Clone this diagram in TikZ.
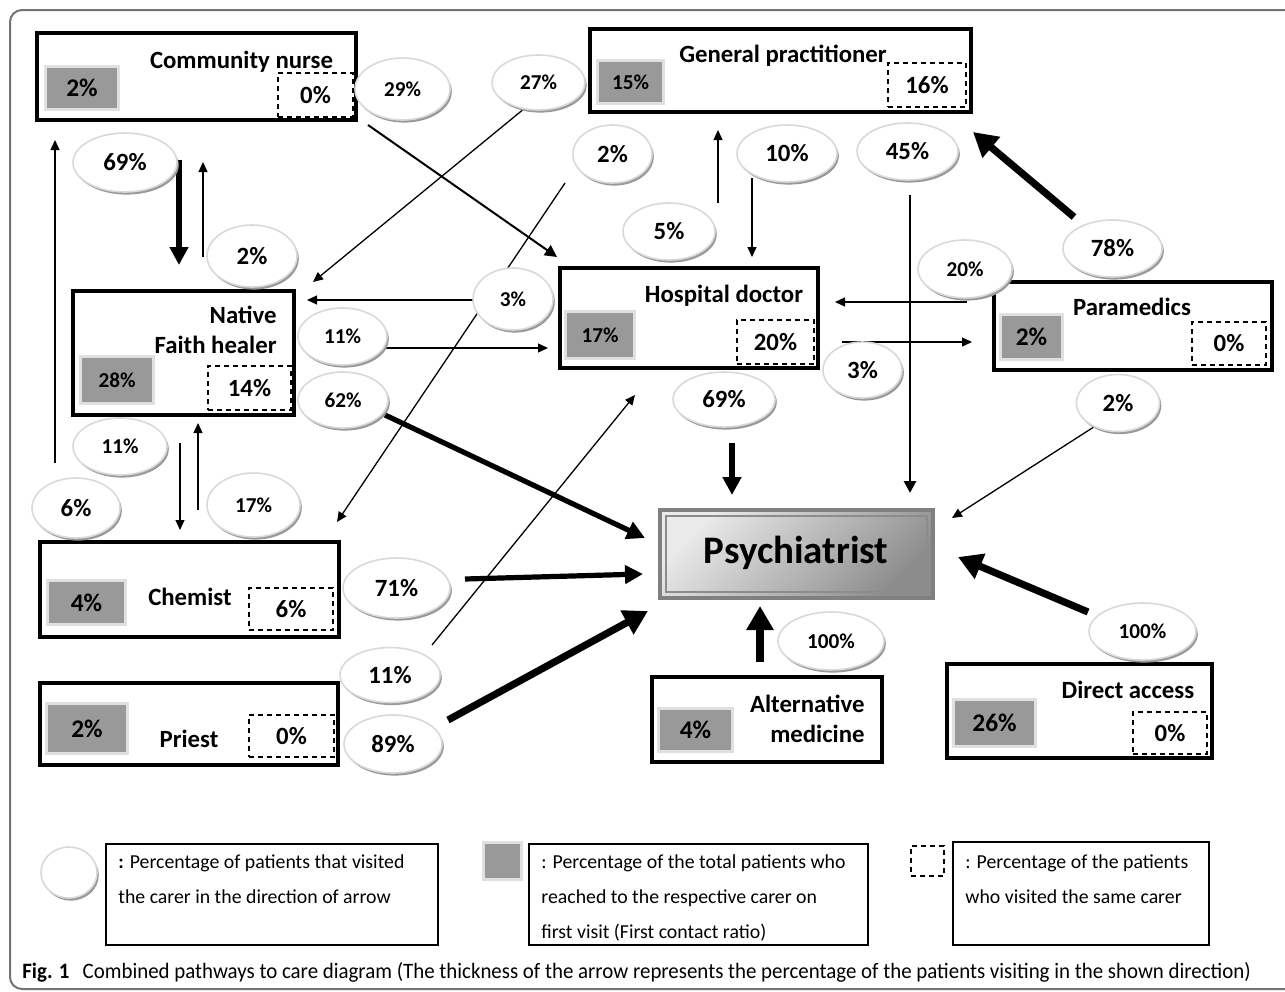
\documentclass[tikz,border=0pt]{standalone}
\usepackage{fontspec}
\setmainfont{Carlito}
\newfontfamily\captionfont[FakeStretch=0.95]{Carlito}
\usetikzlibrary{arrows.meta,shapes.geometric,shadows}

\newcommand{\sizedfont}[1]{\fontsize{#1pt}{#1pt}\selectfont}

\begin{document}
\begin{tikzpicture}[x=0.5pt, y=-0.5pt,
  boxsize/.style 2 args={minimum width=#1*0.5pt, minimum height=#2*0.5pt},
  carer/.style={draw, line width=1.75pt, fill=white, inner sep=0pt, outer sep=0pt},
  carername/.style={font=\bfseries\sizedfont{12.4}, inner sep=0pt},
  firstbox/.style={draw=black!12, line width=1.5pt, fill=black!40, inner sep=0pt, font=\bfseries\sizedfont{12.7}},
  samebox/.style={draw, dash pattern=on 2.5pt off 2pt, line width=0.7pt, inner sep=0pt, font=\bfseries\sizedfont{12.4}},
  pct/.style={ellipse, draw=black!15, line width=0.8pt, fill=white, inner sep=0pt, font=\bfseries\sizedfont{12.4},
    drop shadow={shadow xshift=0.9pt, shadow yshift=-1.3pt, fill=black!40, opacity=1}},
  lesser/.style={font=\bfseries\sizedfont{10.6}},
  psych/.style={draw=black!50, line width=2pt, inner sep=0pt, outer sep=0pt, top color=black!8, bottom color=black!45, shading angle=45},
  keybox/.style={draw, line width=0.6pt, inner sep=0pt},
  keytext/.style={anchor=base west, inner sep=0pt, font=\sizedfont{9.9}},
  thinarr/.style={line width=0.65pt, -{Triangle[length=5pt, width=4.5pt]}},
  midarr/.style={line width=1pt, -{Triangle[length=6pt, width=6pt]}},
  boldarr/.style={line width=2.6pt, -{Triangle[length=9pt, width=9pt]}},
  heavyarr/.style={line width=3.6pt, -{Triangle[length=12pt, width=13pt]}}]
  \useasboundingbox (0,0) rectangle (1285,991);
  \draw[black!55, line width=1pt, rounded corners=6pt] (10,10) rectangle (1320,989);

  % carers
  \node[carer, boxsize={319}{87}] (cn) at (196.5,76.5) {};
  \node[carer, boxsize={381}{83}] (gp) at (780.5,70.5) {};
  \node[carer, boxsize={221}{124}] (nfh) at (183.5,353) {};
  \node[carer, boxsize={258}{100}] (hd) at (689,318) {};
  \node[carer, boxsize={278}{88}] (pm) at (1133,326) {};
  \node[carer, boxsize={299}{95}] (ch) at (189.5,589.5) {};
  \node[carer, boxsize={298}{82}] (pr) at (189,724) {};
  \node[carer, boxsize={230}{85}] (am) at (767,719.5) {};
  \node[carer, boxsize={265}{94}] (da) at (1079.5,711) {};
  \node[psych, boxsize={273}{88}] (ps) at (796.5,554) {};
  \draw[black!45, line width=0.6pt] ([shift={(6,6)}]ps.north west) rectangle ([shift={(-6,-6)}]ps.south east);

  \node[carername, anchor=base] (cnname) at (241.5,68) {Community nurse};
  \node[carername, anchor=base] (gpname) at (783,62) {General practitioner};
  \node[carername, anchor=base east] (nfhname1) at (277,323) {Native};
  \node[carername, anchor=base east] (nfhname2) at (277,353) {Faith healer};
  \node[carername, anchor=base] (hdname) at (724,302) {Hospital doctor};
  \node[carername, anchor=base] (pmname) at (1132,315) {Paramedics};
  \node[carername, anchor=base] (chname) at (190,605) {Chemist};
  \node[carername, anchor=base] (prname) at (189,747) {Priest};
  \node[carername, anchor=base east] (amname1) at (865,712) {Alternative};
  \node[carername, anchor=base east] (amname2) at (865,742) {medicine};
  \node[carername, anchor=base] (daname) at (1128,698) {Direct access};
  \node[font=\bfseries\sizedfont{19.5}, anchor=base, inner sep=0pt] (psname) at (796,563) {Psychiatrist};

  % first contact ratio
  \node[firstbox, boxsize={73}{43}] (cnfirst) at (82,88) {2\%};
  \node[firstbox, lesser, boxsize={66}{43}] (gpfirst) at (630.5,82) {15\%};
  \node[firstbox, lesser, boxsize={73}{47}] (nfhfirst) at (117,380) {28\%};
  \node[firstbox, lesser, boxsize={69}{47}] (hdfirst) at (600,335) {17\%};
  \node[firstbox, boxsize={62}{45}] (pmfirst) at (1031.5,337) {2\%};
  \node[firstbox, boxsize={78}{44}] (chfirst) at (86.5,602.5) {4\%};
  \node[firstbox, boxsize={81}{50}] (prfirst) at (87,728.5) {2\%};
  \node[firstbox, boxsize={74}{43}] (amfirst) at (695.5,730) {4\%};
  \node[firstbox, boxsize={82}{47}] (dafirst) at (994.5,723) {26\%};

  % same carer
  \node[samebox, boxsize={75}{44}] (cnsame) at (315.5,95) {0\%};
  \node[samebox, boxsize={78}{44}] (gpsame) at (927,85) {16\%};
  \node[samebox, boxsize={83}{44}] (nfhsame) at (249.5,388) {14\%};
  \node[samebox, boxsize={77}{44}] (hdsame) at (775.5,342) {20\%};
  \node[samebox, boxsize={74}{43}] (pmsame) at (1229,343.5) {0\%};
  \node[samebox, boxsize={84}{42}] (chsame) at (291,609) {6\%};
  \node[samebox, boxsize={85}{42}] (prsame) at (291.5,736) {0\%};
  \node[samebox, boxsize={74}{42}] (dasame) at (1170,733) {0\%};

  % pathways
  \draw[boldarr] ([shift={(-17.5,40)}]cn.south) -- ([shift={(-4.5,-26)}]nfh.north);
  \draw[thinarr] ([shift={(19.5,-34)}]nfh.north) -- ([shift={(6.5,42)}]cn.south);
  \draw[thinarr] ([shift={(15,-79)}]ch.north west) -- ([shift={(18,20)}]cn.south west);
  \draw[midarr] ([shift={(12,5)}]cn.south east) -- ([shift={(-3,-11)}]hd.north west);
  \draw[thinarr] ([shift={(-65,-4)}]gp.south west) -- ([shift={(19,-9)}]nfh.north east);
  \draw[thinarr] ([shift={(-25,71)}]gp.south west) -- ([shift={(-2,-20)}]ch.north east);
  \draw[thinarr] ([shift={(-87,-18)}]hd.west) -- ([shift={(13,9)}]nfh.north east);
  \draw[thinarr] ([shift={(91,-5)}]nfh.east) -- ([shift={(-12,30)}]hd.west);
  \draw[boldarr] ([shift={(91,0)}]nfh.south east) -- ([shift={(-15,-16)}]ps.west);
  \draw[thinarr] ([shift={(-3.5,28)}]nfh.south) -- ([shift={(-9.5,-12)}]ch.north);
  \draw[thinarr] ([shift={(8.5,-32)}]ch.north) -- ([shift={(14.5,8)}]nfh.south);
  \draw[boldarr] ([shift={(126,-10.5)}]ch.east) -- ([shift={(-17,20)}]ps.west);
  \draw[thinarr] ([shift={(94,-38)}]pr.north east) -- ([shift={(75,27)}]hd.south west);
  \draw[heavyarr] ([shift={(110,-4)}]pr.east) -- ([shift={(-12,13)}]ps.south west);
  \draw[thinarr] ([shift={(29,-65)}]hd.north) -- ([shift={(-62.5,18)}]gp.south);
  \draw[thinarr] ([shift={(-28.5,66)}]gp.south) -- ([shift={(63,-11)}]hd.north);
  \draw[midarr, line width=1.4pt] ([shift={(129.5,83)}]gp.south) -- ([shift={(-23,-17)}]ps.north east);
  \draw[heavyarr] ([shift={(80,-65)}]pm.north west) -- ([shift={(2,20)}]gp.south east);
  \draw[thinarr] ([shift={(-27,-24)}]pm.west) -- ([shift={(17,-16)}]hd.east);
  \draw[thinarr] ([shift={(24,24)}]hd.east) -- ([shift={(-22,16)}]pm.west);
  \draw[thinarr] ([shift={(-33,53)}]pm.south) -- ([shift={(19,8)}]ps.north east);
  \draw[boldarr] ([shift={(43,75)}]hd.south) -- ([shift={(-64.5,-15)}]ps.north);
  \draw[heavyarr] ([shift={(-7,-15)}]am.north) -- ([shift={(-36.5,8)}]ps.south);
  \draw[heavyarr] ([shift={(8.5,-52)}]da.north) -- ([shift={(25,3)}]ps.east);

  % percentages on the pathways
  \node[pct, lesser, boxsize={95}{62}] (p29) at (402.5,89) {29\%};
  \node[pct, lesser, boxsize={93}{55}] (p27) at (538.5,82.5) {27\%};
  \node[pct, boxsize={104}{59}] (p69a) at (125,162.5) {69\%};
  \node[pct, boxsize={90}{62}] (p2a) at (252,256) {2\%};
  \node[pct, boxsize={79}{58}] (p2b) at (612.5,154) {2\%};
  \node[pct, boxsize={100}{57}] (p10) at (787,153.5) {10\%};
  \node[pct, boxsize={92}{57}] (p5) at (669,231.5) {5\%};
  \node[pct, boxsize={101}{57}] (p45) at (907.5,151.5) {45\%};
  \node[pct, boxsize={99}{57}] (p78) at (1112.5,248.5) {78\%};
  \node[pct, lesser, boxsize={94}{58}] (p20) at (965,269) {20\%};
  \node[pct, lesser, boxsize={80}{62}] (p3a) at (513,299) {3\%};
  \node[pct, boxsize={79}{56}] (p3b) at (862.5,370) {3\%};
  \node[pct, boxsize={102}{55}] (p69b) at (724,399.5) {69\%};
  \node[pct, boxsize={83}{57}] (p2c) at (1118,403) {2\%};
  \node[pct, lesser, boxsize={89}{57}] (p11a) at (342.5,336.5) {11\%};
  \node[pct, lesser, boxsize={90}{56}] (p62) at (343,400) {62\%};
  \node[pct, lesser, boxsize={94}{57}] (p11b) at (120,446.5) {11\%};
  \node[pct, boxsize={88}{60}] (p6) at (76,508) {6\%};
  \node[pct, lesser, boxsize={93}{64}] (p17) at (253.5,505) {17\%};
  \node[pct, boxsize={107}{60}] (p71) at (396.5,588) {71\%};
  \node[pct, boxsize={100}{55}] (p11c) at (390,675) {11\%};
  \node[pct, boxsize={98}{58}] (p89) at (393,744) {89\%};
  \node[pct, lesser, boxsize={106}{58}] (p100a) at (831,641) {100\%};
  \node[pct, lesser, boxsize={107}{57}] (p100b) at (1142.5,631.5) {100\%};

  % key
  \node[pct, boxsize={56}{51}] (keyoval) at (69,872.5) {};
  \node[keybox, boxsize={332}{101}] (key1) at (272,894.5) {};
  \node[keytext] (key1a) at (118,868) {\textbf{:} Percentage of patients that visited};
  \node[keytext] (key1b) at (118,903) {the carer in the direction of arrow};
  \node[firstbox, boxsize={38}{37}] (keyfirst) at (502.5,861) {};
  \node[keybox, boxsize={339}{101}] (key2) at (698.5,894.5) {};
  \node[keytext] (key2a) at (541,868) {: Percentage of the total patients who};
  \node[keytext] (key2b) at (541,903) {reached to the respective carer on};
  \node[keytext] (key2c) at (541,938) {first visit (First contact ratio)};
  \node[samebox, boxsize={33}{30}] (keysame) at (927.5,861) {};
  \node[keybox, boxsize={256}{103}] (key3) at (1081,893.5) {};
  \node[keytext] (key3a) at (965,868) {: Percentage of the patients};
  \node[keytext] (key3b) at (965,903) {who visited the same carer};

  \node[anchor=base west, inner sep=0pt, font=\captionfont\sizedfont{11}] (caption) at (22,978)
    {\textbf{Fig. 1}\hspace{0.6em}Combined pathways to care diagram (The thickness of the arrow represents the percentage of the patients visiting in the shown direction)};
\end{tikzpicture}
\end{document}
